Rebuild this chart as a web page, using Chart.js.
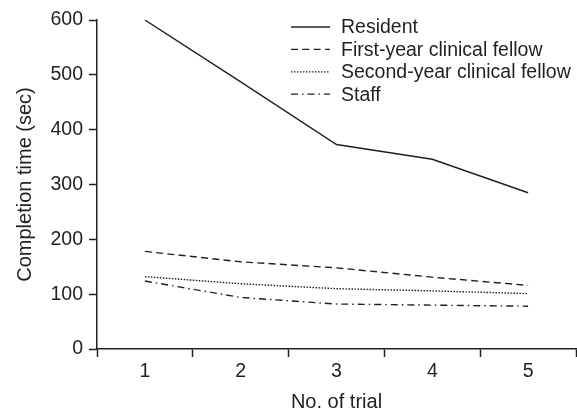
<!DOCTYPE html>
<html>
<head>
<meta charset="utf-8">
<script src="https://cdn.jsdelivr.net/npm/chart.js@4"></script>
<style>
  html, body { margin: 0; padding: 0; background: #fff; }
  #wrap { width: 577px; height: 411px; }
</style>
</head>
<body>
<div id="wrap"><canvas id="myChart" width="577" height="411"></canvas></div>
<script>
const trials = ["1", "2", "3", "4", "5"];
const resident = [600, 487, 373, 346, 285];
const firstYear = [178, 159, 148, 131, 116];
const secondYear = [132, 119, 110, 106, 101];
const staff = [124, 94, 82, 80, 78];
const seriesNames = ["Resident", "First-year clinical fellow", "Second-year clinical fellow", "Staff"];
const yTicks = [0, 100, 200, 300, 400, 500, 600];

const ink = "#231f20";
const fontFamily = "'Liberation Sans', Arial, sans-serif";
const fontSize = 19.5;

// solid, dashed, dotted, dash-dot
const dashes = [[], [7, 4.3], [1.5, 1.5], [7, 4, 1.5, 4]];

const legendPlugin = {
  id: "insideLegend",
  afterDraw(chart) {
    const ctx = chart.ctx;
    ctx.save();
    ctx.font = fontSize + "px " + fontFamily;
    ctx.fillStyle = ink;
    ctx.textBaseline = "middle";
    chart.data.datasets.forEach((ds, i) => {
      const y = 27 + i * 22.4;
      ctx.beginPath();
      ctx.setLineDash(ds.borderDash || []);
      ctx.strokeStyle = ink;
      ctx.lineWidth = 1.3;
      ctx.moveTo(291, y);
      ctx.lineTo(330, y);
      ctx.stroke();
      ctx.setLineDash([]);
      ctx.fillText(ds.label, 341, y + 1);
    });
    ctx.restore();
  },
};

const lineSeries = [resident, firstYear, secondYear, staff];

new Chart(document.getElementById("myChart").getContext("2d"), {
  type: "line",
  data: {
    labels: trials,
    datasets: lineSeries.map((vals, i) => ({
      label: seriesNames[i],
      data: vals,
      borderColor: ink,
      borderWidth: 1.4,
      borderDash: dashes[i],
      pointRadius: 0,
      tension: 0,
      fill: false,
    })),
  },
  options: {
    responsive: false,
    animation: false,
    layout: { padding: { left: 0, top: 20, right: 1, bottom: 0 } },
    plugins: {
      legend: { display: false },
      tooltip: { enabled: false },
    },
    scales: {
      x: {
        type: "category",
        offset: true,
        grid: {
          offset: true,
          drawOnChartArea: false,
          drawTicks: true,
          tickLength: 8,
          tickWidth: 1.5,
          tickColor: ink,
        },
        border: { display: true, color: ink, width: 1.5 },
        ticks: {
          color: ink,
          padding: 3,
          font: { family: fontFamily, size: fontSize },
          maxRotation: 0,
        },
        title: {
          display: true,
          text: "No. of trial",
          color: ink,
          font: { family: fontFamily, size: 20 },
          padding: { top: 0, bottom: -3 },
        },
        afterFit(scale) {
          scale.height = 62;
        },
      },
      y: {
        min: 0,
        max: 600,
        afterBuildTicks(scale) {
          scale.ticks = yTicks.map((v) => ({ value: v }));
        },
        grid: {
          drawOnChartArea: false,
          drawTicks: true,
          tickLength: 8,
          tickWidth: 1.5,
          tickColor: ink,
        },
        border: { display: true, color: ink, width: 1.5 },
        ticks: {
          color: ink,
          padding: 6,
          font: { family: fontFamily, size: fontSize },
        },
        title: {
          display: true,
          text: "Completion time (sec)",
          color: ink,
          font: { family: fontFamily, size: 20 },
          padding: { top: 13, bottom: 0 },
        },
        afterFit(scale) {
          scale.width = 97;
        },
      },
    },
  },
  plugins: [legendPlugin],
});
</script>
</body>
</html>
